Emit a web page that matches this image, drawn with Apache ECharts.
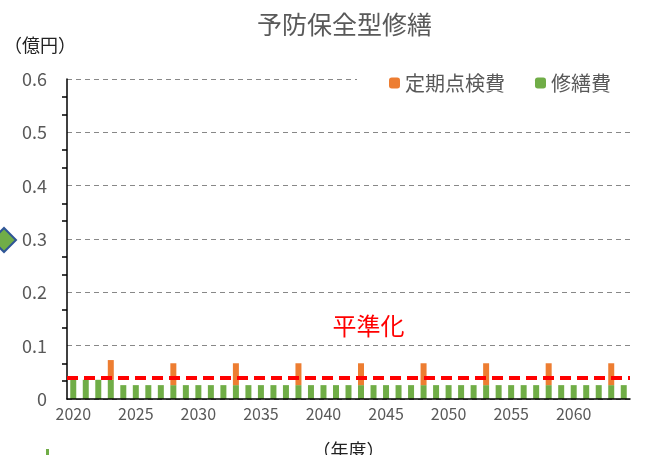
<!DOCTYPE html>
<html>
<head>
<meta charset="utf-8">
<script src="https://cdn.jsdelivr.net/npm/echarts@6/dist/echarts.min.js"></script>
<style>
html, body { margin: 0; padding: 0; background: #fff; }
#main { width: 648px; height: 455px; }
</style>
</head>
<body>
<div id="main"></div>
<script>
// 年度
var years = [];
for (var y = 2020; y <= 2064; y++) years.push(String(y));

// 修繕費（億円）
var repairCost = [
    0.036, 0.036, 0.036, 0.036, 0.026, 0.026, 0.026, 0.026, 0.026, 0.026,
    0.026, 0.026, 0.026, 0.026, 0.026, 0.026, 0.026, 0.026, 0.026, 0.026,
    0.026, 0.026, 0.026, 0.026, 0.026, 0.026, 0.026, 0.026, 0.026, 0.026,
    0.026, 0.026, 0.026, 0.026, 0.026, 0.026, 0.026, 0.026, 0.026, 0.026,
    0.026, 0.026, 0.026, 0.026, 0.026
];
// 定期点検費（億円）
var inspectCost = [
    0, 0, 0, 0.037, 0, 0, 0, 0, 0.041, 0,
    0, 0, 0, 0.041, 0, 0, 0, 0, 0.041, 0,
    0, 0, 0, 0.041, 0, 0, 0, 0, 0.041, 0,
    0, 0, 0, 0.041, 0, 0, 0, 0, 0.041, 0,
    0, 0, 0, 0.041, 0
];
// 平準化ライン
var levelValue = 0.045;

var font = '"Noto Sans CJK JP", sans-serif';

function PlanChart() {
    var myChart = echarts.init(document.getElementById('main'));
    var option = {
        backgroundColor: '#fff',
        textStyle: { fontFamily: font },
        title: {
            text: '予防保全型修繕',
            left: 252,
            top: 7,
            textStyle: { color: '#595959', fontSize: 25, fontWeight: 'normal', fontFamily: font }
        },
        legend: {
            data: ['定期点検費', '修繕費'],
            left: 357,
            top: 71,
            itemWidth: 11,
            itemHeight: 11,
            itemGap: 30,
            padding: [2, 20, 2, 32],
            backgroundColor: '#fff',
            textStyle: { color: '#595959', fontSize: 20, fontFamily: font },
            z: 10
        },
        grid: { left: 67, right: 18, top: 79, bottom: 56, outerBoundsMode: 'none' },
        xAxis: {
            type: 'category',
            data: years,
            z: 5,
            name: '（年度）',
            nameLocation: 'middle',
            nameGap: 42,
            nameTextStyle: { color: '#222', fontSize: 18 },
            axisLine: { lineStyle: { color: '#000', width: 1.5 } },
            axisTick: { inside: true, alignWithLabel: true, interval: 0, length: 5, lineStyle: { color: '#000', width: 1.5 } },
            axisLabel: { interval: 4, color: '#595959', fontSize: 16, margin: 7 }
        },
        yAxis: {
            type: 'value',
            min: 0,
            max: 0.6,
            interval: 0.1,
            name: '（億円）',
            nameLocation: 'end',
            nameGap: 25,
            nameTextStyle: { color: '#222', fontSize: 18, align: 'center', padding: [0, 0, 0, -54] },
            axisLine: { show: true, lineStyle: { color: '#000', width: 1.5 } },
            axisTick: { show: false },
            minorTick: { show: true, splitNumber: 3, length: 5, lineStyle: { color: '#000', width: 1.5 } },
            axisLabel: { color: '#595959', fontSize: 18, margin: 20, formatter: function (v) { return v === 0 ? '0' : v.toFixed(1); } },
            splitLine: { show: true, lineStyle: { color: '#888', type: [5, 4], width: 1 } }
        },
        series: [
            {
                name: '修繕費',
                type: 'bar',
                stack: 'cost',
                data: repairCost,
                barWidth: 6,
                itemStyle: { color: '#70ad47' },
                markLine: {
                    silent: true,
                    symbol: 'none',
                    lineStyle: { color: '#ff0000', type: [11, 6], width: 4 },
                    label: {
                        show: true,
                        position: 'middle',
                        formatter: '平準化',
                        color: '#ff0000',
                        fontSize: 24,
                        distance: 40,
                        offset: [20, 0]
                    },
                    data: [{ yAxis: levelValue }]
                }
            },
            {
                name: '定期点検費',
                type: 'bar',
                stack: 'cost',
                data: inspectCost,
                barWidth: 6,
                itemStyle: { color: '#ed7d31' }
            }
        ],
        graphic: [
            {
                type: 'polygon',
                shape: { points: [[-8, 240], [4, 228], [16, 240], [4, 252]] },
                style: { fill: '#70ad47', stroke: '#2f5597', lineWidth: 2 }
            },
            {
                type: 'rect',
                shape: { x: 46, y: 449, width: 3, height: 6 },
                style: { fill: '#70ad47' }
            }
        ]
    };
    myChart.setOption(option, true);
    return myChart;
}

window.onload = function () {
    var planChart = PlanChart();
    window.onresize = function () {
        planChart.resize();
    };
};
</script>
</body>
</html>
